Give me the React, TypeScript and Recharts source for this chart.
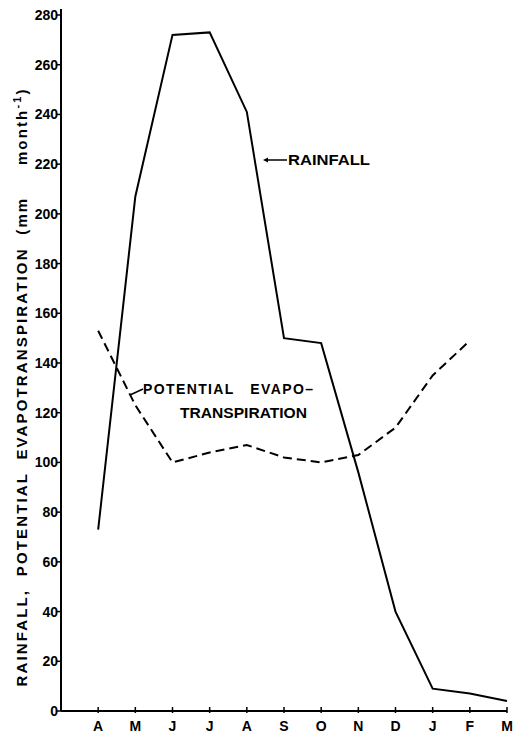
import React from 'react';
import { LineChart, Line, XAxis, YAxis } from 'recharts';

const months = ['A', 'M', 'J', 'J', 'A', 'S', 'O', 'N', 'D', 'J', 'F', 'M'];
const rainfall = [73, 207, 272, 273, 241, 150, 148, 96, 40, 9, 7, 4];
const pet: (number | null)[] = [153, 123, 100, 104, 107, 102, 100, 103, 114, 135, 149, null];
const yTicks = [0, 20, 40, 60, 80, 100, 120, 140, 160, 180, 200, 220, 240, 260, 280];
const xTicks = [1, 2, 3, 4, 5, 6, 7, 8, 9, 10, 11, 12];

const data = months.map((m, i) => ({ x: i + 1, month: m, rainfall: rainfall[i], pet: pet[i] }));

const FONT = '"Liberation Sans", Arial, sans-serif';

const XTick = (props: any) => {
  const { x, y, payload } = props;
  return (
    <g>
      <line x1={x} y1={y} x2={x} y2={y - 6} stroke="#000" strokeWidth={1.5} />
      <text x={x} y={y + 18} textAnchor="middle" fontSize={14} fontWeight="bold" fontFamily={FONT} fill="#000">
        {months[payload.value - 1]}
      </text>
    </g>
  );
};

const YTick = (props: any) => {
  const { x, y, payload } = props;
  return (
    <text x={x + 2} y={y + 5} textAnchor="end" fontSize={14} fontWeight="bold" fontFamily={FONT} fill="#000">
      {payload.value}
    </text>
  );
};

export default function App() {
  return (
    <div style={{ position: 'absolute', left: 0, top: 0, width: 514, height: 740, background: '#fff' }}>
      <LineChart width={514} height={740} data={data} margin={{ top: 15, right: 7, left: 0, bottom: 9 }}>
        <XAxis
          dataKey="x"
          type="number"
          domain={[0, 12]}
          ticks={xTicks}
          height={20}
          tickSize={0}
          tickLine={false}
          tick={<XTick />}
          axisLine={{ stroke: '#000', strokeWidth: 2 }}
          interval={0}
        />
        <YAxis
          type="number"
          domain={[0, 280]}
          ticks={yTicks}
          width={61}
          tickSize={5}
          tickMargin={0}
          tickLine={{ stroke: '#000', strokeWidth: 1.5 }}
          tick={<YTick />}
          axisLine={{ stroke: '#000', strokeWidth: 2 }}
          interval={0}
        />
        <Line
          dataKey="rainfall"
          stroke="#000"
          strokeWidth={2}
          dot={false}
          isAnimationActive={false}
          type="linear"
        />
        <Line
          dataKey="pet"
          stroke="#000"
          strokeWidth={2}
          strokeDasharray="9 5"
          dot={false}
          isAnimationActive={false}
          type="linear"
        />
      </LineChart>
      <svg width={514} height={740} style={{ position: 'absolute', left: 0, top: 0, pointerEvents: 'none' }}>
        <line x1={61} y1={15} x2={61} y2={9} stroke="#000" strokeWidth={2} />
        <text
          transform="translate(27,388) rotate(-90)"
          textAnchor="middle"
          fontSize={15}
          fontWeight="bold"
          fontFamily={FONT}
          fill="#000"
          textLength={597}
          lengthAdjust="spacing"
          xmlSpace="preserve"
        >
          RAINFALL,  POTENTIAL  EVAPOTRANSPIRATION  (mm     month
          <tspan dy={-6} fontSize={11}>-1</tspan>
          <tspan dy={6}>)</tspan>
        </text>
        <line x1={265} y1={160} x2={287} y2={160} stroke="#000" strokeWidth={1.5} />
        <path d="M263,160 L268,157.5 L268,162.5 Z" fill="#000" />
        <text x={288} y={165} fontSize={14} fontWeight="bold" fontFamily={FONT} fill="#000" textLength={82} lengthAdjust="spacingAndGlyphs">
          RAINFALL
        </text>
        <line x1={130} y1={395} x2={143} y2={389} stroke="#000" strokeWidth={1.5} />
        <text x={143} y={394} fontSize={14} fontWeight="bold" fontFamily={FONT} fill="#000" textLength={170} lengthAdjust="spacing" xmlSpace="preserve">
          POTENTIAL   EVAPO–
        </text>
        <text x={180} y={418} fontSize={14} fontWeight="bold" fontFamily={FONT} fill="#000" textLength={127} lengthAdjust="spacingAndGlyphs">
          TRANSPIRATION
        </text>
      </svg>
    </div>
  );
}
